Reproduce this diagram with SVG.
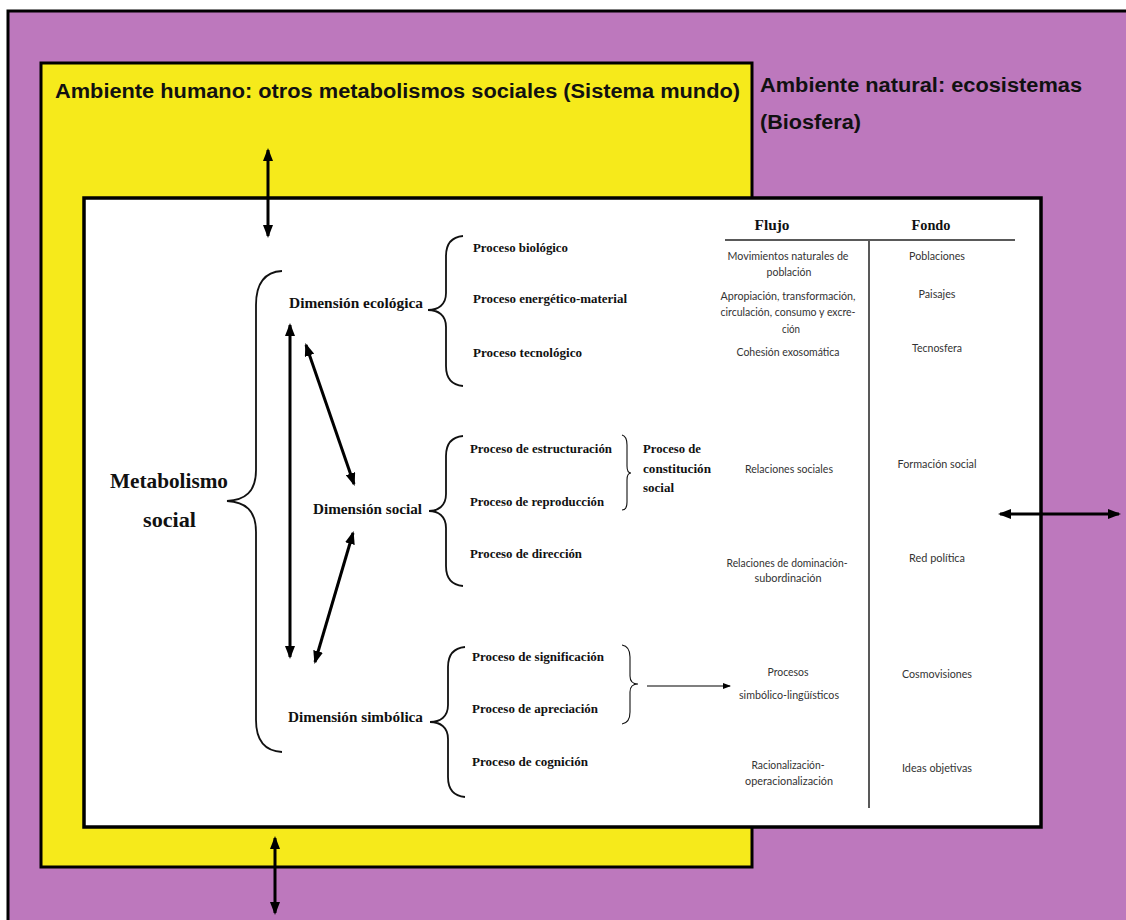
<svg xmlns="http://www.w3.org/2000/svg" width="1126" height="920" viewBox="0 0 1126 920">
  <style>
    .hdr { font-family: "Liberation Sans", Arial, sans-serif; font-weight: bold; font-size: 20px; fill: #111; }
    .big { font-family: "Liberation Serif", "DejaVu Serif", serif; font-weight: bold; font-size: 21px; fill: #111; }
    .dim { font-family: "Liberation Serif", "DejaVu Serif", serif; font-weight: bold; font-size: 15px; fill: #111; }
    .proc { font-family: "Liberation Serif", "DejaVu Serif", serif; font-weight: bold; font-size: 13px; fill: #111; }
    .col { font-family: "Liberation Serif", "DejaVu Serif", serif; font-weight: bold; font-size: 15px; fill: #111; text-anchor: middle; }
    .cell { font-family: Lato, "Liberation Sans", sans-serif; font-size: 10.5px; fill: #333; text-anchor: middle; }
    .brace { fill: none; stroke: #111; stroke-width: 1.8; }
    .sbrace { fill: none; stroke: #111; stroke-width: 1.1; }
    .arr { fill: none; stroke: #000; stroke-width: 3; marker-start: url(#ah); marker-end: url(#ah); }
    .thin { fill: none; stroke: #000; stroke-width: 1.2; marker-end: url(#sh); }
    .rule { stroke: #222; stroke-width: 1.5; }
  </style>
  <defs>
    <marker id="ah" viewBox="0 0 13 10" refX="11" refY="5" markerWidth="13" markerHeight="10" markerUnits="userSpaceOnUse" orient="auto-start-reverse">
      <path d="M0,0 L13,5 L0,10 z" fill="#000"/>
    </marker>
    <marker id="sh" viewBox="0 0 8 6" refX="7" refY="3" markerWidth="8" markerHeight="6" markerUnits="userSpaceOnUse" orient="auto">
      <path d="M0,0 L8,3 L0,6 z" fill="#000"/>
    </marker>
  </defs>

  <rect x="0" y="0" width="1126" height="920" fill="#ffffff"/>

  <g id="biosfera">
    <rect x="8" y="11" width="1130" height="920" fill="#BD78BD" stroke="#000" stroke-width="3"/>
    <text class="hdr" x="760" y="92" textLength="322" lengthAdjust="spacingAndGlyphs">Ambiente natural: ecosistemas</text>
    <text class="hdr" x="760" y="129" textLength="101" lengthAdjust="spacingAndGlyphs">(Biosfera)</text>
  </g>

  <g id="sistema-mundo">
    <rect x="41" y="63" width="711" height="804" fill="#F6EA1B" stroke="#000" stroke-width="3"/>
    <text class="hdr" x="55" y="98" textLength="685" lengthAdjust="spacingAndGlyphs">Ambiente humano: otros metabolismos sociales (Sistema mundo)</text>
  </g>

  <g id="metabolismo-social-panel">
    <rect x="84" y="198" width="957" height="629" fill="#ffffff" stroke="#000" stroke-width="3.5"/>
  </g>

  <g id="metabolismo-social">
    <text class="big" x="110" y="488" textLength="118" lengthAdjust="spacingAndGlyphs">Metabolismo</text>
    <text class="big" x="143" y="527" textLength="53" lengthAdjust="spacingAndGlyphs">social</text>
    <path class="brace" d="M282,271 C264,272 256,285 256,305 L256,470 C256,492 245,500 227,501 C245,502 256,510 256,532 L256,720 C256,740 264,751 282,752"/>
  </g>

  <g id="dimension-ecologica">
    <text class="dim" x="289" y="308" textLength="134" lengthAdjust="spacingAndGlyphs">Dimensión ecológica</text>
    <path class="brace" d="M463,236 C452,237 446,244 446,256 L446,293 C446,305 438,310 428,310 C438,310 446,315 446,327 L446,366 C446,378 452,385 463,386"/>
    <text class="proc" x="473" y="252" textLength="95" lengthAdjust="spacingAndGlyphs">Proceso biológico</text>
    <text class="proc" x="473" y="303" textLength="154" lengthAdjust="spacingAndGlyphs">Proceso energético-material</text>
    <text class="proc" x="473" y="357" textLength="109" lengthAdjust="spacingAndGlyphs">Proceso tecnológico</text>
  </g>

  <g id="dimension-social">
    <text class="dim" x="313" y="514" textLength="109" lengthAdjust="spacingAndGlyphs">Dimensión social</text>
    <path class="brace" d="M463,436 C452,437 446,444 446,456 L446,494 C446,506 438,511 429,511 C438,511 446,516 446,528 L446,566 C446,578 452,585 463,586"/>
    <text class="proc" x="470" y="453" textLength="142" lengthAdjust="spacingAndGlyphs">Proceso de estructuración</text>
    <text class="proc" x="470" y="506" textLength="134" lengthAdjust="spacingAndGlyphs">Proceso de reproducción</text>
    <text class="proc" x="470" y="558" textLength="112" lengthAdjust="spacingAndGlyphs">Proceso de dirección</text>
    <path class="sbrace" d="M622,435 C626,436 627,439 627,445 L627,466 C627,471 628,473 631,473 C628,473 627,475 627,480 L627,502 C627,507 626,510 622,510"/>
    <text class="proc" x="643" y="453" textLength="58" lengthAdjust="spacingAndGlyphs">Proceso de</text>
    <text class="proc" x="643" y="473" textLength="68" lengthAdjust="spacingAndGlyphs">constitución</text>
    <text class="proc" x="643" y="492" textLength="31" lengthAdjust="spacingAndGlyphs">social</text>
  </g>

  <g id="dimension-simbolica">
    <text class="dim" x="288" y="722" textLength="135" lengthAdjust="spacingAndGlyphs">Dimensión simbólica</text>
    <path class="brace" d="M465,647 C454,648 448,655 448,667 L448,705 C448,717 440,722 430,722 C440,722 448,727 448,739 L448,777 C448,789 454,796 465,797"/>
    <text class="proc" x="472" y="661" textLength="132" lengthAdjust="spacingAndGlyphs">Proceso de significación</text>
    <text class="proc" x="472" y="713" textLength="126" lengthAdjust="spacingAndGlyphs">Proceso de apreciación</text>
    <text class="proc" x="472" y="766" textLength="116" lengthAdjust="spacingAndGlyphs">Proceso de cognición</text>
    <path class="sbrace" d="M622,645 C628,646 630,650 630,657 L630,676 C630,681 632,684 638,684 C632,684 630,687 630,692 L630,712 C630,719 628,723 622,724"/>
  </g>

  <g id="tabla">
    <text class="col" x="772" y="230" textLength="35" lengthAdjust="spacingAndGlyphs">Flujo</text>
    <text class="col" x="931" y="230" textLength="39" lengthAdjust="spacingAndGlyphs">Fondo</text>
    <line class="rule" x1="725" y1="240" x2="1015" y2="240"/>
    <line class="rule" x1="869" y1="241" x2="869" y2="808"/>
  </g>

  <g id="flujo">
    <text class="cell" x="788" y="260" textLength="121" lengthAdjust="spacingAndGlyphs">Movimientos naturales de</text>
    <text class="cell" x="789" y="276" textLength="45" lengthAdjust="spacingAndGlyphs">población</text>
    <text class="cell" x="788" y="300" textLength="135" lengthAdjust="spacingAndGlyphs">Apropiación, transformación,</text>
    <text class="cell" x="788" y="316" textLength="135" lengthAdjust="spacingAndGlyphs">circulación, consumo y excre-</text>
    <text class="cell" x="791" y="333" textLength="18" lengthAdjust="spacingAndGlyphs">ción</text>
    <text class="cell" x="788" y="356" textLength="103" lengthAdjust="spacingAndGlyphs">Cohesión exosomática</text>
    <text class="cell" x="789" y="473" textLength="88" lengthAdjust="spacingAndGlyphs">Relaciones sociales</text>
    <text class="cell" x="787" y="567" textLength="121" lengthAdjust="spacingAndGlyphs">Relaciones de dominación-</text>
    <text class="cell" x="788" y="582" textLength="67" lengthAdjust="spacingAndGlyphs">subordinación</text>
    <text class="cell" x="788" y="676" textLength="41" lengthAdjust="spacingAndGlyphs">Procesos</text>
    <text class="cell" x="789" y="699" textLength="100" lengthAdjust="spacingAndGlyphs">simbólico-lingüísticos</text>
    <text class="cell" x="788" y="769" textLength="73" lengthAdjust="spacingAndGlyphs">Racionalización-</text>
    <text class="cell" x="789" y="785" textLength="88" lengthAdjust="spacingAndGlyphs">operacionalización</text>
  </g>

  <g id="fondo">
    <text class="cell" x="937" y="260" textLength="56" lengthAdjust="spacingAndGlyphs">Poblaciones</text>
    <text class="cell" x="937" y="298" textLength="37" lengthAdjust="spacingAndGlyphs">Paisajes</text>
    <text class="cell" x="937" y="352" textLength="50" lengthAdjust="spacingAndGlyphs">Tecnosfera</text>
    <text class="cell" x="937" y="468" textLength="79" lengthAdjust="spacingAndGlyphs">Formación social</text>
    <text class="cell" x="937" y="562" textLength="56" lengthAdjust="spacingAndGlyphs">Red política</text>
    <text class="cell" x="937" y="678" textLength="70" lengthAdjust="spacingAndGlyphs">Cosmovisiones</text>
    <text class="cell" x="937" y="772" textLength="70" lengthAdjust="spacingAndGlyphs">Ideas objetivas</text>
  </g>

  <g id="connectors">
    <line class="arr" x1="268" y1="150" x2="268" y2="236"/>
    <line class="arr" x1="275" y1="838" x2="275" y2="913"/>
    <line class="arr" x1="1000" y1="514" x2="1119" y2="514"/>
    <line class="arr" x1="290" y1="325" x2="290" y2="657"/>
    <line class="arr" x1="306" y1="345" x2="354" y2="484"/>
    <line class="arr" x1="353" y1="533" x2="315" y2="662"/>
    <line class="thin" x1="647" y1="686" x2="730" y2="686"/>
  </g>
</svg>
